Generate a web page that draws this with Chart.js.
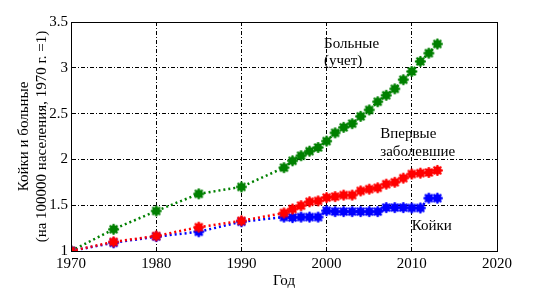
<!DOCTYPE html>
<html>
<head>
<meta charset="utf-8">
<script src="https://cdn.jsdelivr.net/npm/chart.js@4/dist/chart.umd.min.js"></script>
<style>
  html, body { margin: 0; padding: 0; background: #fff; }
  #wrap { width: 549px; height: 293px; }
</style>
</head>
<body>
<div id="wrap"><canvas id="c"></canvas></div>
<script>
// данные (годы и индексы, 1970 = 1)
const years = [1970, 1975, 1980, 1985, 1990,
  1995, 1996, 1997, 1998, 1999, 2000, 2001, 2002, 2003, 2004,
  2005, 2006, 2007, 2008, 2009, 2010, 2011, 2012, 2013];
const patients = [1.0, 1.237, 1.437, 1.624, 1.70,
  1.91, 1.985, 2.04, 2.09, 2.13, 2.2, 2.29, 2.35, 2.39, 2.47,
  2.54, 2.63, 2.70, 2.77, 2.87, 2.96, 3.07, 3.16, 3.26];
const newCases = [1.0, 1.10, 1.164, 1.26, 1.33,
  1.415, 1.458, 1.495, 1.537, 1.547, 1.583, 1.594, 1.61, 1.61, 1.656,
  1.675, 1.69, 1.73, 1.75, 1.795, 1.84, 1.85, 1.857, 1.88];
const beds = [1.0, 1.09, 1.157, 1.21, 1.32,
  1.37, 1.365, 1.37, 1.37, 1.37, 1.44, 1.43, 1.43, 1.43, 1.43,
  1.43, 1.43, 1.474, 1.474, 1.474, 1.47, 1.47, 1.577, 1.577];

const xTicks = [1970, 1980, 1990, 2000, 2010, 2020];
const yTicks = [1, 1.5, 2, 2.5, 3, 3.5];
const xTickLabels = ['1970', '1980', '1990', '2000', '2010', '2020'];
const yTickLabels = ['1', '1.5', '2', '2.5', '3', '3.5'];

const notes = [
  { lines: ['Больные', '(учет)'], x: 1999.7, y: 3.218 },
  { lines: ['Впервые', 'заболевшие'], x: 2006.3, y: 2.233 },
  { lines: ['Койки'], x: 2010.0, y: 1.23 }
];

const FONT = '"Liberation Serif", "DejaVu Serif", serif';

// маркер: кружок + звездочка
function marker(color){
  const c = document.createElement('canvas');
  c.width = c.height = 13;
  const g = c.getContext('2d');
  g.fillStyle = color; g.strokeStyle = color;
  g.beginPath(); g.arc(6.5, 6.5, 4.3, 0, Math.PI * 2); g.fill();
  g.lineWidth = 2;
  for (let i = 0; i < 4; i++) {
    const a = i * Math.PI / 4;
    g.beginPath();
    g.moveTo(6.5 - 5.5 * Math.cos(a), 6.5 - 5.5 * Math.sin(a));
    g.lineTo(6.5 + 5.5 * Math.cos(a), 6.5 + 5.5 * Math.sin(a));
    g.stroke();
  }
  return c;
}

function series(vals, color){
  return {
    data: years.map((y, i) => ({ x: y, y: vals[i] })),
    borderColor: color,
    backgroundColor: color,
    borderWidth: 2.5,
    borderDash: [2, 3],
    pointStyle: marker(color),
    pointRadius: 5,
    tension: 0
  };
}

const boxPlugin = {
  id: 'box',
  afterDraw(chart){
    const { ctx, chartArea: a, scales } = chart;
    ctx.save();
    ctx.strokeStyle = '#000';
    ctx.lineWidth = 1;
    ctx.strokeRect(Math.round(a.left) + 0.5, Math.round(a.top) + 0.5,
      Math.round(a.right - a.left), Math.round(a.bottom - a.top));
    ctx.fillStyle = '#000';
    ctx.font = '15px ' + FONT;
    ctx.textBaseline = 'alphabetic';
    ctx.textAlign = 'left';
    notes.forEach(n => {
      const px = scales.x.getPixelForValue(n.x);
      const py = scales.y.getPixelForValue(n.y);
      n.lines.forEach((t, i) => ctx.fillText(t, px, py + i * 17.5));
    });
    ctx.restore();
  }
};

new Chart(document.getElementById('c'), {
  type: 'line',
  data: { datasets: [series(newCases, '#ff0000'), series(beds, '#0000ff'), series(patients, '#008000')] },
  options: {
    responsive: true,
    maintainAspectRatio: false,
    animation: false,
    events: [],
    layout: { padding: { left: 0, right: 52, top: 22, bottom: 0 } },
    plugins: { legend: { display: false }, tooltip: { enabled: false } },
    scales: {
      x: {
        type: 'linear', min: 1970, max: 2020,
        afterBuildTicks: s => { s.ticks = xTicks.map(v => ({ value: v })); },
        afterFit: s => { s.height = 42; },
        ticks: {
          color: '#000', font: { family: FONT, size: 15 }, padding: 4,
          callback: v => xTickLabels[xTicks.indexOf(v)]
        },
        grid: { color: '#000', lineWidth: 1, drawTicks: false },
        border: { color: '#000', dash: [4, 2, 1, 2] },
        title: { display: true, text: 'Год', color: '#000', font: { family: FONT, size: 15 }, padding: { top: 0, bottom: 3 } }
      },
      y: {
        min: 1, max: 3.5,
        afterBuildTicks: s => { s.ticks = yTicks.map(v => ({ value: v })); },
        afterFit: s => { s.width = 71; },
        ticks: {
          color: '#000', font: { family: FONT, size: 15 }, padding: 3,
          callback: v => yTickLabels[yTicks.indexOf(v)]
        },
        grid: { color: '#000', lineWidth: 1, drawTicks: false },
        border: { color: '#000', dash: [4, 2, 1, 2] },
        title: {
          display: true,
          text: ['Койки и больные', '(на 100000 населения, 1970 г. =1)'],
          color: '#000', font: { family: FONT, size: 15, lineHeight: 1.2 }, padding: { top: 15, bottom: 0 }
        }
      }
    }
  },
  plugins: [boxPlugin]
});
</script>
</body>
</html>
